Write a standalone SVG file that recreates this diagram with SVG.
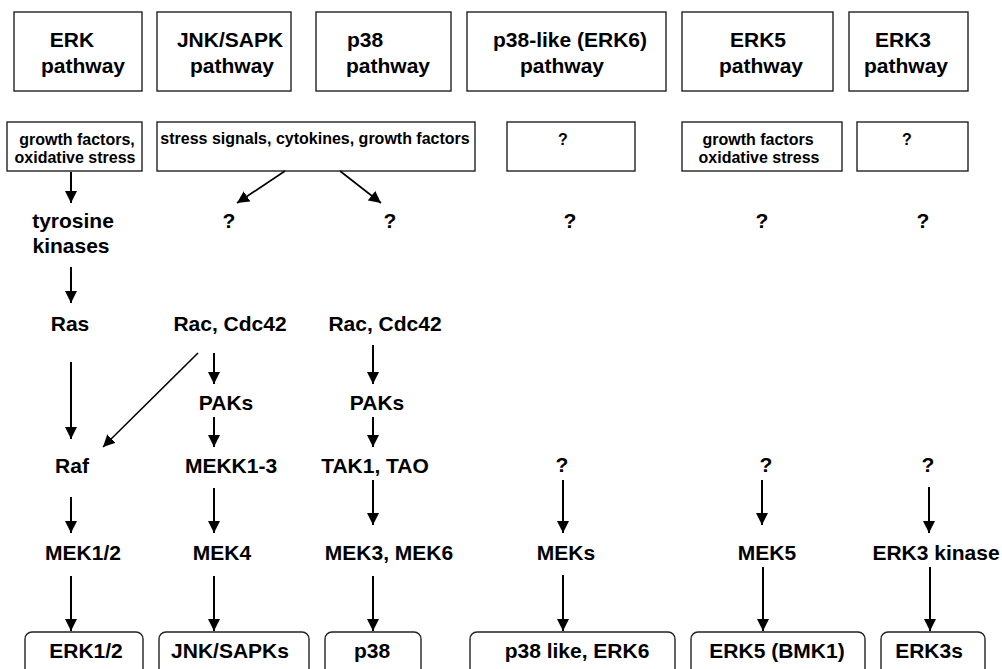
<svg xmlns="http://www.w3.org/2000/svg" width="1002" height="669" viewBox="0 0 1002 669">
<style>
.bx{fill:#fff;stroke:#222;stroke-width:1.4}
.t{font-family:"Liberation Sans",Arial,sans-serif;font-weight:bold;font-size:21px;fill:#000;text-anchor:middle}
.s{font-family:"Liberation Sans",Arial,sans-serif;font-weight:bold;font-size:16px;fill:#000;text-anchor:middle}
.a{stroke:#000;stroke-width:2;fill:none;marker-end:url(#ah)}
.d{stroke:#000;stroke-width:1.6;fill:none;marker-end:url(#ah)}
</style>
<defs>
<marker id="ah" markerUnits="userSpaceOnUse" markerWidth="13" markerHeight="13" refX="12" refY="6" orient="auto" viewBox="0 0 13 12">
<path d="M0,0 L12,6 L0,12 z" fill="#000"/>
</marker>
</defs>
<rect width="1002" height="669" fill="#fff"/>

<g id="h-erk"><rect class="bx" x="14" y="12" width="128" height="79"/><text class="t" x="72" y="47">ERK</text><text class="t" x="83" y="73">pathway</text></g>
<g id="h-jnk"><rect class="bx" x="157" y="12" width="134" height="79"/><text class="t" x="230" y="47">JNK/SAPK</text><text class="t" x="232" y="73">pathway</text></g>
<g id="h-p38"><rect class="bx" x="316" y="12" width="135" height="79"/><text class="t" x="365" y="47">p38</text><text class="t" x="388" y="73">pathway</text></g>
<g id="h-p38l"><rect class="bx" x="467" y="12" width="199" height="79"/><text class="t" x="570" y="47">p38-like (ERK6)</text><text class="t" x="562" y="73">pathway</text></g>
<g id="h-erk5"><rect class="bx" x="682" y="12" width="151" height="79"/><text class="t" x="758" y="47">ERK5</text><text class="t" x="761" y="73">pathway</text></g>
<g id="h-erk3"><rect class="bx" x="849" y="12" width="119" height="79"/><text class="t" x="903" y="47">ERK3</text><text class="t" x="906" y="73">pathway</text></g>

<g id="s-erk"><rect class="bx" x="7" y="122" width="135" height="49"/><text class="s" x="77" y="145">growth factors,</text><text class="s" x="75" y="163">oxidative stress</text></g>
<g id="s-jnk"><rect class="bx" x="157" y="122" width="318" height="49"/><text class="s" x="315" y="144">stress signals, cytokines, growth factors</text></g>
<g id="s-p38l"><rect class="bx" x="507" y="122" width="128" height="49"/><text class="s" x="563" y="145">?</text></g>
<g id="s-erk5"><rect class="bx" x="682" y="122" width="160" height="49"/><text class="s" x="758" y="145">growth factors</text><text class="s" x="759" y="163">oxidative stress</text></g>
<g id="s-erk3"><rect class="bx" x="857" y="122" width="111" height="49"/><text class="s" x="907" y="145">?</text></g>

<g id="n-tyr"><text class="t" x="73" y="228">tyrosine</text><text class="t" x="71" y="253">kinases</text></g>
<g id="n-q1"><text class="t" x="229" y="228">?</text></g>
<g id="n-q2"><text class="t" x="390" y="228">?</text></g>
<g id="n-q3"><text class="t" x="570" y="228">?</text></g>
<g id="n-q4"><text class="t" x="762" y="228">?</text></g>
<g id="n-q5"><text class="t" x="923" y="228">?</text></g>

<g id="n-ras"><text class="t" x="70" y="331">Ras</text></g>
<g id="n-rac1"><text class="t" x="230" y="331">Rac, Cdc42</text></g>
<g id="n-rac2"><text class="t" x="385" y="331">Rac, Cdc42</text></g>
<g id="n-pak1"><text class="t" x="226" y="410">PAKs</text></g>
<g id="n-pak2"><text class="t" x="377" y="410">PAKs</text></g>
<g id="n-raf"><text class="t" x="72" y="473">Raf</text></g>
<g id="n-mekk"><text class="t" x="231" y="473">MEKK1-3</text></g>
<g id="n-tak"><text class="t" x="375" y="473">TAK1, TAO</text></g>
<g id="n-q6"><text class="t" x="562" y="472">?</text></g>
<g id="n-q7"><text class="t" x="766" y="472">?</text></g>
<g id="n-q8"><text class="t" x="928" y="472">?</text></g>

<g id="n-mek12"><text class="t" x="83" y="560">MEK1/2</text></g>
<g id="n-mek4"><text class="t" x="222" y="560">MEK4</text></g>
<g id="n-mek36"><text class="t" x="389" y="560">MEK3, MEK6</text></g>
<g id="n-meks"><text class="t" x="566" y="560">MEKs</text></g>
<g id="n-mek5"><text class="t" x="767" y="560">MEK5</text></g>
<g id="n-erk3k"><text class="t" x="936" y="560">ERK3 kinase</text></g>

<g id="b-erk12"><rect class="bx" x="25" y="632" width="118" height="50" rx="7"/><text class="t" x="86" y="658">ERK1/2</text></g>
<g id="b-jnk"><rect class="bx" x="159" y="632" width="150" height="50" rx="7"/><text class="t" x="230" y="658">JNK/SAPKs</text></g>
<g id="b-p38"><rect class="bx" x="325" y="632" width="96" height="50" rx="7"/><text class="t" x="372" y="658">p38</text></g>
<g id="b-p38l"><rect class="bx" x="470" y="632" width="205" height="50" rx="7"/><text class="t" x="577" y="658">p38 like, ERK6</text></g>
<g id="b-erk5"><rect class="bx" x="691" y="632" width="174" height="50" rx="7"/><text class="t" x="777" y="658">ERK5 (BMK1)</text></g>
<g id="b-erk3"><rect class="bx" x="881" y="632" width="104" height="50" rx="7"/><text class="t" x="929" y="658">ERK3s</text></g>

<g id="connectors">
<line class="a" x1="71" y1="172" x2="71" y2="203"/>
<line class="d" x1="285" y1="171" x2="237" y2="203"/>
<line class="d" x1="340" y1="171" x2="381" y2="203"/>
<line class="a" x1="71" y1="267" x2="71" y2="303"/>
<line class="a" x1="71" y1="362" x2="71" y2="439"/>
<line class="d" x1="198" y1="353" x2="103" y2="447"/>
<line class="a" x1="214" y1="353" x2="214" y2="384"/>
<line class="a" x1="373" y1="345" x2="373" y2="384"/>
<line class="a" x1="214" y1="417" x2="214" y2="447"/>
<line class="a" x1="373" y1="417" x2="373" y2="447"/>
<line class="a" x1="71" y1="497" x2="71" y2="533"/>
<line class="a" x1="214" y1="488" x2="214" y2="533"/>
<line class="a" x1="373" y1="480" x2="373" y2="525"/>
<line class="a" x1="563" y1="480" x2="563" y2="533"/>
<line class="a" x1="762" y1="480" x2="762" y2="525"/>
<line class="a" x1="929" y1="487" x2="929" y2="533"/>
<line class="a" x1="71" y1="576" x2="71" y2="631"/>
<line class="a" x1="214" y1="576" x2="214" y2="631"/>
<line class="a" x1="373" y1="576" x2="373" y2="631"/>
<line class="a" x1="563" y1="575" x2="563" y2="631"/>
<line class="a" x1="763" y1="567" x2="763" y2="631"/>
<line class="a" x1="930" y1="567" x2="930" y2="631"/>
</g>
</svg>
